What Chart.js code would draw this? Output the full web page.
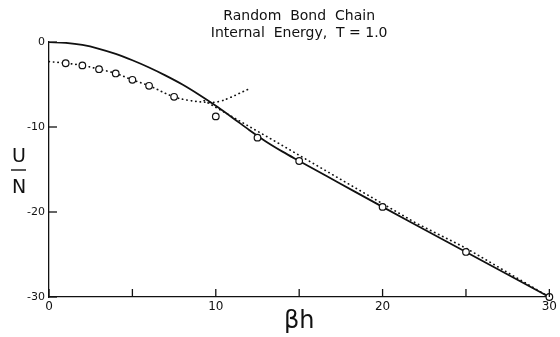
<!DOCTYPE html>
<html>
<head>
<meta charset="utf-8">
<script src="https://cdn.jsdelivr.net/npm/chart.js@4/dist/chart.umd.min.js"></script>
<style>
  html, body { margin: 0; padding: 0; background: #fff; }
  #wrap { width: 560px; height: 337px; }
</style>
</head>
<body>
<div id="wrap"><canvas id="energy-chart" width="560" height="337"></canvas></div>
<script>
// Exact solution (solid curve)
const exactX = [0, 1, 2, 3, 4, 5, 6, 7, 8, 9, 10, 11, 12, 13, 14, 15, 17.5, 20, 22.5, 25, 27.5, 30];
const exactY = [0, -0.1, -0.35, -0.8, -1.4, -2.15, -3.0, -3.95, -5.0, -6.2, -7.5, -8.9, -10.35, -11.7, -12.9, -14.0, -16.7, -19.4, -22.05, -24.7, -27.35, -30];

// Low-field expansion (dotted, turns up)
const lowX = [0, 1, 2, 3, 4, 5, 6, 7.5, 8.5, 9.5, 10.2, 10.9, 11.4, 11.9];
const lowY = [-2.3, -2.5, -2.75, -3.2, -3.7, -4.45, -5.15, -6.45, -6.9, -7.1, -7.0, -6.5, -6.05, -5.6];

// High-field expansion (dotted, straight)
const highX = [9.3, 13.7, 22, 25, 30];
const highY = [-6.9, -11.85, -21.3, -24.25, -30];

// Simulation points (open circles)
const simX = [1, 2, 3, 4, 5, 6, 7.5, 10, 12.5, 15, 20, 25, 30];
const simY = [-2.5, -2.75, -3.2, -3.7, -4.45, -5.15, -6.45, -8.75, -11.25, -14.0, -19.4, -24.7, -30];

// Axis ticks
const xTickMarks = [0, 5, 10, 15, 20, 25, 30];
const yTickMarks = [0, -10, -20, -30];
const titleLines = ['Random  Bond  Chain', 'Internal  Energy,  T = 1.0'];

const FONT = '"DejaVu Sans", sans-serif';
const INK = '#111';

function toPoints(xs, ys) {
  return xs.map((x, i) => ({ x: x, y: ys[i] }));
}

/**
 * Inward tick marks on both axes
 */
const innerTicks = {
  id: 'innerTicks',
  afterDatasetsDraw(chart) {
    const { ctx, scales: { x, y } } = chart;
    const x0 = x.getPixelForValue(0);
    const yBase = y.getPixelForValue(-30);
    ctx.save();
    ctx.strokeStyle = INK;
    ctx.lineWidth = 1.3;
    xTickMarks.forEach(v => {
      const px = x.getPixelForValue(v);
      ctx.beginPath();
      ctx.moveTo(px, yBase);
      ctx.lineTo(px, yBase - 8);
      ctx.stroke();
    });
    yTickMarks.forEach(v => {
      const py = y.getPixelForValue(v);
      ctx.beginPath();
      ctx.moveTo(x0, py);
      ctx.lineTo(x0 + 8, py);
      ctx.stroke();
    });
    ctx.restore();
  }
};

/**
 * U over N label on the left
 */
const fractionLabel = {
  id: 'fractionLabel',
  afterDraw(chart) {
    const ctx = chart.ctx;
    ctx.save();
    ctx.fillStyle = INK;
    ctx.strokeStyle = INK;
    ctx.font = '19px ' + FONT;
    ctx.textAlign = 'center';
    ctx.textBaseline = 'alphabetic';
    ctx.fillText('U', 19, 162);
    ctx.fillText('N', 19, 193);
    ctx.lineWidth = 1.4;
    ctx.beginPath();
    ctx.moveTo(11, 170);
    ctx.lineTo(26, 170);
    ctx.stroke();
    ctx.restore();
  }
};

function renderChart() {
  const ctx = document.getElementById('energy-chart').getContext('2d');

  new Chart(ctx, {
    type: 'line',
    data: {
      datasets: [
        {
          label: 'simulation',
          data: toPoints(simX, simY),
          showLine: false,
          pointRadius: 3.3,
          pointBackgroundColor: '#fff',
          pointBorderColor: INK,
          pointBorderWidth: 1.2,
          clip: false
        },
        {
          label: 'exact',
          data: toPoints(exactX, exactY),
          borderColor: INK,
          borderWidth: 1.8,
          pointRadius: 0,
          cubicInterpolationMode: 'monotone',
          fill: false
        },
        {
          label: 'low field',
          data: toPoints(lowX, lowY),
          borderColor: INK,
          borderWidth: 1.7,
          borderDash: [0.3, 4.2],
          borderCapStyle: 'round',
          pointRadius: 0,
          tension: 0.4,
          fill: false
        },
        {
          label: 'high field',
          data: toPoints(highX, highY),
          borderColor: INK,
          borderWidth: 1.7,
          borderDash: [0.3, 4.2],
          borderCapStyle: 'round',
          pointRadius: 0,
          tension: 0,
          fill: false
        }
      ]
    },
    options: {
      responsive: false,
      animation: false,
      events: [],
      layout: {
        autoPadding: false,
        padding: { left: 0, right: 5, top: 0, bottom: 0 }
      },
      plugins: {
        legend: { display: false },
        tooltip: { enabled: false },
        title: {
          display: true,
          fullSize: false,
          text: titleLines,
          color: INK,
          font: { family: FONT, size: 14, weight: 'normal', lineHeight: 17 / 14 },
          padding: { top: 8, bottom: 0 }
        }
      },
      scales: {
        x: {
          type: 'linear',
          min: 0,
          max: 30,
          grid: { display: false, drawTicks: false },
          border: { display: true, color: INK, width: 1.3 },
          ticks: {
            stepSize: 10,
            color: INK,
            padding: 3,
            font: { family: FONT, size: 12 }
          },
          title: {
            display: true,
            text: 'βh',
            color: INK,
            font: { family: FONT, size: 24, lineHeight: 1 },
            padding: { top: 0, bottom: 3 }
          },
          afterFit(scale) { scale.height = 40; }
        },
        y: {
          type: 'linear',
          min: -30,
          max: 0,
          grid: { display: false, drawTicks: false },
          border: { display: true, color: INK, width: 1.3 },
          ticks: {
            stepSize: 10,
            color: INK,
            padding: 4,
            font: { family: FONT, size: 11 }
          },
          afterFit(scale) { scale.width = 49; }
        }
      }
    },
    plugins: [innerTicks, fractionLabel]
  });
}

renderChart();
</script>
</body>
</html>
